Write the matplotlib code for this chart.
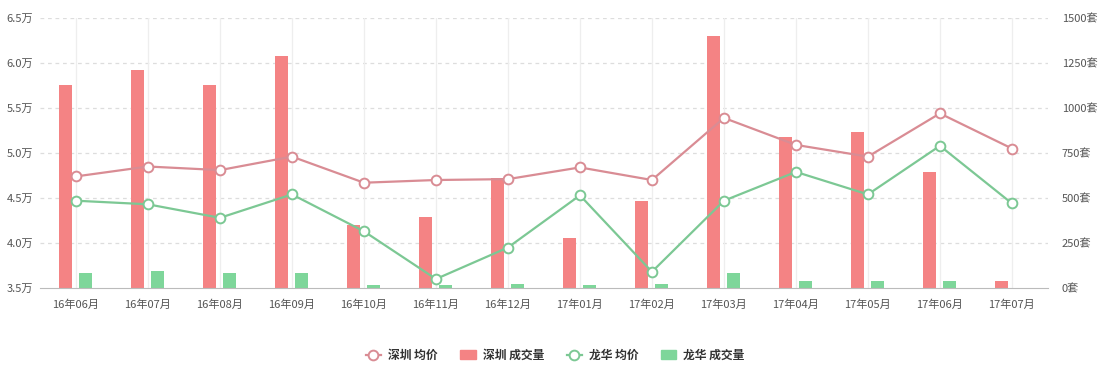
import numpy as np
import matplotlib
matplotlib.use("Agg")
import matplotlib.pyplot as plt
from matplotlib.lines import Line2D
from matplotlib.patches import Patch

plt.rcParams['font.family'] = ['Noto Sans CJK SC', 'DejaVu Sans']

# data
months = ["16年06月", "16年07月", "16年08月", "16年09月", "16年10月", "16年11月", "16年12月",
          "17年01月", "17年02月", "17年03月", "17年04月", "17年05月", "17年06月", "17年07月"]
sz_price = [4.74, 4.85, 4.81, 4.96, 4.67, 4.70, 4.71, 4.84, 4.70, 5.39, 5.09, 4.96, 5.44, 5.05]
lh_price = [4.47, 4.43, 4.28, 4.54, 4.13, 3.60, 3.95, 4.53, 3.68, 4.47, 4.79, 4.54, 5.08, 4.44]
sz_volume = [1128, 1211, 1128, 1289, 350, 394, 611, 278, 483, 1400, 839, 867, 644, 40]
lh_volume = [83, 94, 83, 83, 17, 17, 22, 15, 22, 83, 40, 40, 40, 0]

left_ticks = [3.5, 4.0, 4.5, 5.0, 5.5, 6.0, 6.5]
right_ticks = [0, 250, 500, 750, 1000, 1250, 1500]

red_bar = "#f48384"
green_bar = "#7ed69a"
red_line = "#d98c94"
green_line = "#7cc894"
txt = "#555555"

fig = plt.figure(figsize=(11.04, 3.70), dpi=100)
ax = fig.add_axes([0.0362, 0.2216, 0.913, 0.7297])
ax2 = ax.twinx()

x = np.arange(len(months))
w = 0.18
ax2.bar(x - 0.145, sz_volume, w, color=red_bar, zorder=2)
ax2.bar(x + 0.135, lh_volume, w, color=green_bar, zorder=2)
ax2.set_ylim(0, 1500)
ax2.set_yticks(right_ticks)
ax2.set_yticklabels([f"{v}套" for v in right_ticks])

ax.set_zorder(ax2.get_zorder() + 1)
ax.patch.set_visible(False)
ax.plot(x, sz_price, color=red_line, lw=1.6, marker="o", ms=7,
        mfc="white", mec=red_line, mew=1.4, zorder=3)
ax.plot(x, lh_price, color=green_line, lw=1.6, marker="o", ms=7,
        mfc="white", mec=green_line, mew=1.4, zorder=3)
ax.set_ylim(3.5, 6.5)
ax.set_yticks(left_ticks)
ax.set_yticklabels([f"{v:.1f}万" for v in left_ticks])
ax.set_xlim(-0.5, len(months) - 0.5)
ax.set_xticks(x)
ax.set_xticklabels(months)

# grid: dashed horizontals, faint solid verticals (drawn on the bar axes so they sit behind)
for v in right_ticks[1:]:
    ax2.axhline(v, color="#dddddd", lw=0.9, ls=(0, (3, 3)), zorder=0)
for xi in x:
    ax2.axvline(xi, color="#eeeeee", lw=0.9, zorder=0)

for a in (ax, ax2):
    for s in a.spines.values():
        s.set_visible(False)
    a.tick_params(length=0, labelsize=8, colors=txt)
ax.spines["bottom"].set_visible(True)
ax.spines["bottom"].set_color("#bbbbbb")
ax.tick_params(axis="x", pad=8)
ax.tick_params(axis="y", pad=5)
ax2.tick_params(axis="y", pad=10)

handles = [
    Line2D([], [], color=red_line, lw=1.6, marker="o", ms=7, mfc="white", mec=red_line, mew=1.4),
    Patch(color=red_bar),
    Line2D([], [], color=green_line, lw=1.6, marker="o", ms=7, mfc="white", mec=green_line, mew=1.4),
    Patch(color=green_bar),
]
labels = ["深圳 均价", "深圳 成交量", "龙华 均价", "龙华 成交量"]
leg = fig.legend(handles, labels, loc="center", bbox_to_anchor=(0.503, 0.04), ncol=4,
                 frameon=False, fontsize=8.5, handlelength=1.3, columnspacing=1.9,
                 handletextpad=0.6)
for t in leg.get_texts():
    t.set_color("#333333")
    t.set_fontweight("bold")

plt.savefig("out.png", dpi=100)
